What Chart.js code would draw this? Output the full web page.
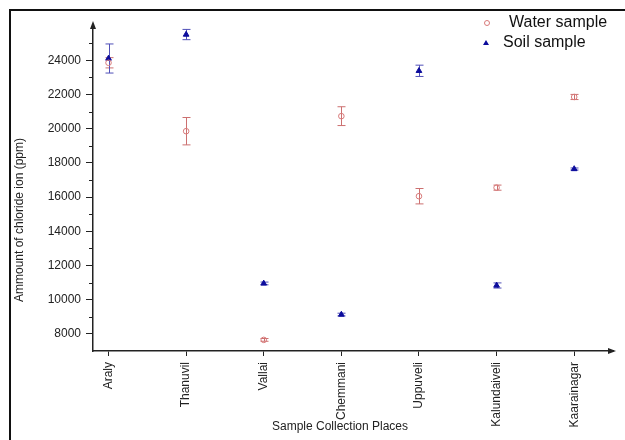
<!DOCTYPE html>
<html>
<head>
<meta charset="utf-8">
<script src="https://cdn.jsdelivr.net/npm/chart.js@4.4.0/dist/chart.umd.min.js"></script>
<style>
  html, body { margin: 0; padding: 0; background: #fff; overflow: hidden; }
  #wrap { position: relative; width: 625px; height: 440px; overflow: hidden; }
  #frame { position: absolute; left: 9px; top: 9px; width: 700px; height: 500px;
           border-left: 2px solid #111; border-top: 2px solid #111; }
  canvas { position: absolute; left: 0; top: 0; }
</style>
</head>
<body>
<div id="wrap">
  <div id="frame"></div>
  <canvas id="chart" width="625" height="440"></canvas>
</div>
<script>
// sample places along the x axis
const places = ['Araly', 'Thanuvil', 'Vallai', 'Chemmani', 'Uppuveli', 'Kalundaiveli', 'Kaarainagar'];

// chloride (ppm)
const waterValues = [23850, 19850, 7650, 20730, 16050, 16550, 21850];
const waterErrors = [300, 800, 80, 550, 450, 150, 150];
const soilValues  = [24100, 25500, 10950, 9130, 23380, 10830, 17640];
const soilErrors  = [850, 300, 80, 80, 330, 150, 60];

const yTicks = [8000, 10000, 12000, 14000, 16000, 18000, 20000, 22000, 24000];
const yMinorTicks = [9000, 11000, 13000, 15000, 17000, 19000, 21000, 23000, 25000];

const FONT = '"Liberation Sans", Arial, sans-serif';
const INK = '#222';
const WATER = '#d87a7a';
const SOIL = '#0c0c9c';

// vertical error bars with caps, drawn under the markers
const errorBars = {
  id: 'errorBars',
  beforeDatasetsDraw(chart) {
    const { ctx, scales: { x, y } } = chart;
    chart.data.datasets.forEach(ds => {
      ctx.save();
      ctx.strokeStyle = ds.errorColor;
      ctx.lineWidth = 1;
      ds.data.forEach((pt, i) => {
        const px = Math.round(x.getPixelForValue(pt.x)) + 0.5;
        const top = y.getPixelForValue(pt.y + ds.errors[i]);
        const bot = y.getPixelForValue(pt.y - ds.errors[i]);
        ctx.beginPath();
        ctx.moveTo(px, top); ctx.lineTo(px, bot);
        ctx.moveTo(px - 4, top); ctx.lineTo(px + 4, top);
        ctx.moveTo(px - 4, bot); ctx.lineTo(px + 4, bot);
        ctx.stroke();
      });
      ctx.restore();
    });
  }
};

// arrows, minor ticks, axis titles and the legend
const decorations = {
  id: 'decorations',
  afterDraw(chart) {
    const { ctx, chartArea: a, scales: { y } } = chart;
    ctx.save();
    ctx.strokeStyle = INK;
    ctx.fillStyle = INK;
    ctx.lineWidth = 1;

    // minor ticks on y
    yMinorTicks.forEach(v => {
      const py = Math.round(y.getPixelForValue(v)) + 0.5;
      ctx.beginPath();
      ctx.moveTo(a.left - 4, py); ctx.lineTo(a.left, py);
      ctx.stroke();
    });

    // arrow heads
    ctx.beginPath();
    ctx.moveTo(a.left, a.top - 5);
    ctx.lineTo(a.left - 3, a.top + 3);
    ctx.lineTo(a.left + 3, a.top + 3);
    ctx.closePath();
    ctx.fill();
    ctx.beginPath();
    ctx.moveTo(a.right + 3, a.bottom);
    ctx.lineTo(a.right - 5, a.bottom - 3);
    ctx.lineTo(a.right - 5, a.bottom + 3);
    ctx.closePath();
    ctx.fill();

    // axis titles
    ctx.font = '12px ' + FONT;
    ctx.textAlign = 'center';
    ctx.textBaseline = 'middle';
    ctx.fillText('Sample Collection Places', 340, 427);
    ctx.save();
    ctx.translate(20, 220);
    ctx.rotate(-Math.PI / 2);
    ctx.fillText('Ammount of chloride ion (ppm)', 0, 0);
    ctx.restore();

    // legend
    ctx.strokeStyle = WATER;
    ctx.beginPath();
    ctx.arc(487, 23, 2.5, 0, Math.PI * 2);
    ctx.stroke();
    ctx.fillStyle = SOIL;
    ctx.beginPath();
    ctx.moveTo(486, 40); ctx.lineTo(483, 45); ctx.lineTo(489, 45);
    ctx.closePath();
    ctx.fill();
    ctx.fillStyle = '#111';
    ctx.font = '16px ' + FONT;
    ctx.textAlign = 'left';
    ctx.fillText('Water sample', 509, 23);
    ctx.fillText('Soil sample', 503, 43);
    ctx.restore();
  }
};

new Chart(document.getElementById('chart'), {
  type: 'scatter',
  data: {
    datasets: [
      {
        label: 'Water sample',
        data: places.map((p, i) => ({ x: i, y: waterValues[i] })),
        errors: waterErrors,
        errorColor: '#cc7070',
        pointStyle: 'circle',
        pointRadius: 2.8,
        backgroundColor: 'rgba(255,255,255,0)',
        borderColor: WATER,
        borderWidth: 1
      },
      {
        label: 'Soil sample',
        data: places.map((p, i) => ({ x: i, y: soilValues[i] })),
        errors: soilErrors,
        errorColor: '#5050b8',
        pointStyle: 'triangle',
        pointRadius: 3.3,
        backgroundColor: SOIL,
        borderColor: SOIL,
        borderWidth: 1
      }
    ]
  },
  options: {
    responsive: false,
    animation: false,
    layout: { padding: { top: 26, right: 12, left: 0, bottom: 0 } },
    plugins: { legend: { display: false }, tooltip: { enabled: false } },
    scales: {
      x: {
        type: 'linear',
        min: -0.2,
        max: 6.5,
        afterBuildTicks: s => { s.ticks = places.map((p, i) => ({ value: i })); },
        afterFit: s => { s.height = 89; },
        grid: { drawOnChartArea: false, tickLength: 5, color: INK },
        border: { color: INK, width: 1.5 },
        ticks: {
          autoSkip: false, minRotation: 90, maxRotation: 90, padding: 6,
          color: INK, font: { family: FONT, size: 12 },
          callback: v => places[v]
        }
      },
      y: {
        min: 7000,
        max: 26000,
        afterBuildTicks: s => { s.ticks = yTicks.map(v => ({ value: v })); },
        afterFit: s => { s.width = 93; },
        grid: { drawOnChartArea: false, tickLength: 7, color: INK },
        border: { color: INK, width: 1.5 },
        ticks: {
          padding: 5, color: INK, font: { family: FONT, size: 12 },
          callback: v => String(v)
        }
      }
    }
  },
  plugins: [errorBars, decorations]
});
</script>
</body>
</html>
